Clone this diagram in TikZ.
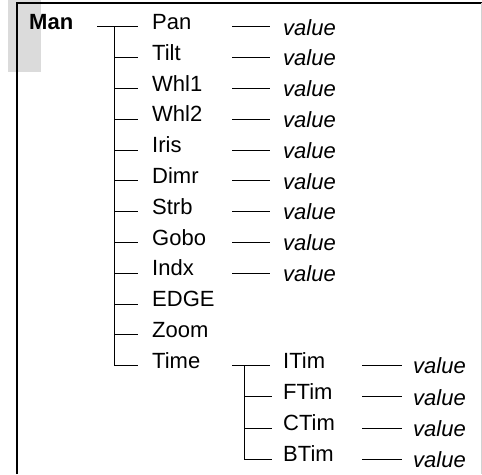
\documentclass[tikz,border=0pt]{standalone}
\usepackage{fontspec}
\setmainfont{Liberation Sans}
\tikzset{
  leaf/.style={anchor=base west, inner sep=0pt, font=\fontsize{22}{26}\selectfont},
  valtext/.style={leaf, font=\fontsize{22}{26}\selectfont\itshape},
  branch/.style={line width=0.8pt},
}
\begin{document}
\begin{tikzpicture}[x=1pt, y=-1pt]
\useasboundingbox (0,0) rectangle (482,474);
\fill[black!14] (8,0) rectangle (41,72);
\draw[line width=1.4pt] (17,474) -- (17,3) -- (482,3);
\draw[black!18, line width=1pt] (481,3) -- (481,474);

\node (man) at (29,29.5) [leaf, font=\fontsize{22}{26}\selectfont\bfseries] {Man};
\node (pan) at (152,29.5) [leaf] {Pan};
\node (tilt) at (152,60.3) [leaf] {Tilt};
\node (whl1) at (152,91.1) [leaf] {Whl1};
\node (whl2) at (152,121.9) [leaf] {Whl2};
\node (iris) at (152,152.7) [leaf] {Iris};
\node (dimr) at (152,183.5) [leaf] {Dimr};
\node (strb) at (152,214.3) [leaf] {Strb};
\node (gobo) at (152,245.1) [leaf] {Gobo};
\node (indx) at (152,275.9) [leaf] {Indx};
\node (edge) at (152,306.7) [leaf] {EDGE};
\node (zoom) at (152,337.5) [leaf] {Zoom};
\node (time) at (152,368.3) [leaf] {Time};

\node (itim) at (283,368.3) [leaf] {ITim};
\node (ftim) at (283,399.5) [leaf] {FTim};
\node (ctim) at (283,430.7) [leaf] {CTim};
\node (btim) at (283,461.9) [leaf] {BTim};

\node (pan-v) at (283,35) [valtext] {value};
\node (tilt-v) at (283,65.8) [valtext] {value};
\node (whl1-v) at (283,96.6) [valtext] {value};
\node (whl2-v) at (283,127.4) [valtext] {value};
\node (iris-v) at (283,158.2) [valtext] {value};
\node (dimr-v) at (283,189) [valtext] {value};
\node (strb-v) at (283,219.8) [valtext] {value};
\node (gobo-v) at (283,250.6) [valtext] {value};
\node (indx-v) at (283,281.4) [valtext] {value};

\node (itim-v) at (413,373.8) [valtext] {value};
\node (ftim-v) at (413,405) [valtext] {value};
\node (ctim-v) at (413,436.2) [valtext] {value};
\node (btim-v) at (413,467.4) [valtext] {value};

\coordinate (trunk) at (114,0);
\coordinate (subtrunk) at (244,0);
\coordinate (vcol) at (232,0);
\coordinate (subvcol) at (362,0);

% main tree
\draw[branch, shorten <=24pt, shorten >=14pt] (man.mid east) -- (pan.mid west);
\draw[branch, shorten >=14pt] (trunk |- pan.mid west) |- (time.mid west);
\draw[branch, shorten >=14pt] (trunk |- tilt.mid west) -- (tilt.mid west);
\draw[branch, shorten >=14pt] (trunk |- whl1.mid west) -- (whl1.mid west);
\draw[branch, shorten >=14pt] (trunk |- whl2.mid west) -- (whl2.mid west);
\draw[branch, shorten >=14pt] (trunk |- iris.mid west) -- (iris.mid west);
\draw[branch, shorten >=14pt] (trunk |- dimr.mid west) -- (dimr.mid west);
\draw[branch, shorten >=14pt] (trunk |- strb.mid west) -- (strb.mid west);
\draw[branch, shorten >=14pt] (trunk |- gobo.mid west) -- (gobo.mid west);
\draw[branch, shorten >=14pt] (trunk |- indx.mid west) -- (indx.mid west);
\draw[branch, shorten >=14pt] (trunk |- edge.mid west) -- (edge.mid west);
\draw[branch, shorten >=14pt] (trunk |- zoom.mid west) -- (zoom.mid west);

% values
\draw[branch, shorten >=13pt] (vcol |- pan.mid west) -- (pan-v.west |- pan.mid west);
\draw[branch, shorten >=13pt] (vcol |- tilt.mid west) -- (tilt-v.west |- tilt.mid west);
\draw[branch, shorten >=13pt] (vcol |- whl1.mid west) -- (whl1-v.west |- whl1.mid west);
\draw[branch, shorten >=13pt] (vcol |- whl2.mid west) -- (whl2-v.west |- whl2.mid west);
\draw[branch, shorten >=13pt] (vcol |- iris.mid west) -- (iris-v.west |- iris.mid west);
\draw[branch, shorten >=13pt] (vcol |- dimr.mid west) -- (dimr-v.west |- dimr.mid west);
\draw[branch, shorten >=13pt] (vcol |- strb.mid west) -- (strb-v.west |- strb.mid west);
\draw[branch, shorten >=13pt] (vcol |- gobo.mid west) -- (gobo-v.west |- gobo.mid west);
\draw[branch, shorten >=13pt] (vcol |- indx.mid west) -- (indx-v.west |- indx.mid west);

% time sub tree
\draw[branch, shorten >=13pt] (vcol |- time.mid west) -- (itim.mid west);
\draw[branch, shorten >=11pt] (subtrunk |- itim.mid west) |- (btim.mid west);
\draw[branch, shorten >=11pt] (subtrunk |- ftim.mid west) -- (ftim.mid west);
\draw[branch, shorten >=11pt] (subtrunk |- ctim.mid west) -- (ctim.mid west);

\draw[branch, shorten >=11pt] (subvcol |- itim.mid west) -- (itim-v.west |- itim.mid west);
\draw[branch, shorten >=11pt] (subvcol |- ftim.mid west) -- (ftim-v.west |- ftim.mid west);
\draw[branch, shorten >=11pt] (subvcol |- ctim.mid west) -- (ctim-v.west |- ctim.mid west);
\draw[branch, shorten >=11pt] (subvcol |- btim.mid west) -- (btim-v.west |- btim.mid west);
\end{tikzpicture}
\end{document}
